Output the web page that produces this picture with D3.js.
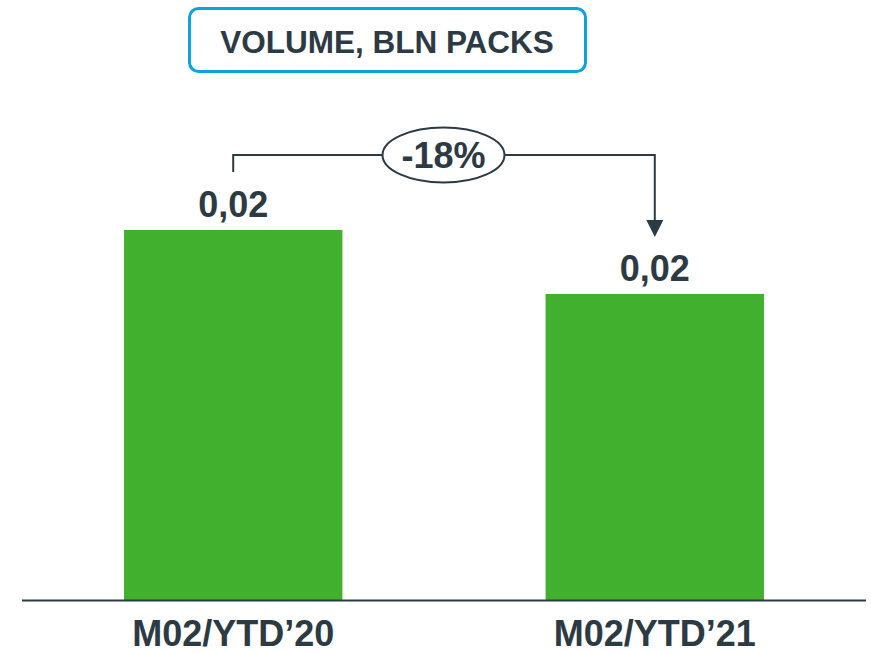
<!DOCTYPE html>
<html><head><meta charset="utf-8">
<script src="https://cdn.jsdelivr.net/npm/d3@7"></script>
<style>body{margin:0;background:#fff}svg{display:block}</style>
</head><body>
<svg id="c" width="871" height="653"></svg>
<script>
const categories = ["M02/YTD\u201920", "M02/YTD\u201921"];
const values = [0.0220, 0.0182];
const valueLabels = ["0,02", "0,02"];
const changeLabel = "-18%";
const title = "VOLUME, BLN PACKS";

const ink = "#2C3A44";
const font = "'Liberation Sans', Arial, sans-serif";
const svg = d3.select("#c");

const x = d3.scaleBand().domain(categories).range([22, 866]).paddingInner(0.482).paddingOuter(0.242);
const y = d3.scaleLinear().domain([0, d3.max(values)]).range([600, 230]);

// title box
svg.append("rect").attr("x", 189.5).attr("y", 8.5).attr("width", 396).attr("height", 63)
  .attr("rx", 9).attr("fill", "#fff").attr("stroke", "#0BA3DD").attr("stroke-width", 3);
svg.append("text").attr("x", 387).attr("y", 53).attr("text-anchor", "middle")
  .attr("font-family", font).attr("font-weight", "bold").attr("font-size", 31.5).attr("fill", ink).text(title);

// bars
svg.selectAll("rect.bar").data(values).join("rect").attr("class", "bar")
  .attr("x", (d, i) => x(categories[i])).attr("width", x.bandwidth())
  .attr("y", d => y(d)).attr("height", d => y(0) - y(d)).attr("fill", "#41B02F");

// value labels
svg.selectAll("text.val").data(values).join("text").attr("class", "val")
  .attr("x", (d, i) => x(categories[i]) + x.bandwidth() / 2).attr("y", d => y(d) - 13)
  .attr("text-anchor", "middle").attr("font-family", font).attr("font-weight", "bold")
  .attr("font-size", 36).attr("fill", ink).text((d, i) => valueLabels[i]);

// baseline
svg.append("line").attr("x1", 22).attr("x2", 866).attr("y1", y(0) + 0.5).attr("y2", y(0) + 0.5)
  .attr("stroke", ink).attr("stroke-width", 2);

// category labels
svg.selectAll("text.cat").data(categories).join("text").attr("class", "cat")
  .attr("x", d => x(d) + x.bandwidth() / 2).attr("y", 645.5).attr("text-anchor", "middle")
  .attr("font-family", font).attr("font-weight", "bold").attr("font-size", 36).attr("fill", ink).text(d => d);

// change bracket
const cx0 = x(categories[0]) + x.bandwidth() / 2;
const cx1 = x(categories[1]) + x.bandwidth() / 2;
const by = 155;
svg.append("path").attr("d", `M${cx0},${y(values[0]) - 58} V${by} H${cx1} V${y(values[1]) - 74}`)
  .attr("fill", "none").attr("stroke", ink).attr("stroke-width", 2);
const tipY = y(values[1]) - 57;
svg.append("path").attr("d", `M${cx1 - 8.5},${tipY - 17} L${cx1 + 8.5},${tipY - 17} L${cx1},${tipY} Z`).attr("fill", ink);
const ex = 443.5;
svg.append("ellipse").attr("cx", ex).attr("cy", by).attr("rx", 61).attr("ry", 27.5)
  .attr("fill", "#fff").attr("stroke", ink).attr("stroke-width", 2);
svg.append("text").attr("x", ex).attr("y", 168).attr("text-anchor", "middle")
  .attr("font-family", font).attr("font-weight", "bold").attr("font-size", 36).attr("fill", ink).text(changeLabel);
</script>
</body></html>
